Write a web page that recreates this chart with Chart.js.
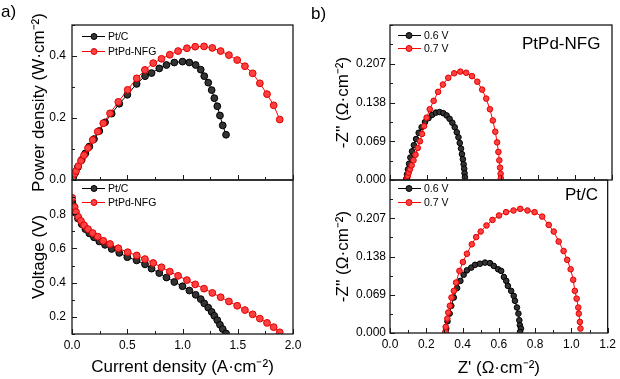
<!DOCTYPE html>
<html>
<head>
<meta charset="utf-8">
<script src="https://cdn.jsdelivr.net/npm/chart.js@4.4.1/dist/chart.umd.min.js"></script>
<style>
  body { margin: 0; background: #fff; }
  #wrap { position: relative; width: 620px; height: 379px; overflow: hidden; font-family: "Liberation Sans", Arial, sans-serif; }
  #wrap canvas { position: absolute; left: 0; top: 0; }
  .txt { position: absolute; white-space: nowrap; color: #000; line-height: 1; }
  .leg { position: absolute; display: flex; align-items: center; font-size: 10.5px; line-height: 1; white-space: nowrap; color: #000; }
  .leg svg { margin-right: 3px; }
</style>
</head>
<body>
<div id="wrap">
  <canvas id="aTop" width="620" height="379"></canvas>
  <canvas id="aBot" width="620" height="379"></canvas>
  <canvas id="bTop" width="620" height="379"></canvas>
  <canvas id="bBot" width="620" height="379"></canvas>

  <div class="txt" style="left:1px;top:3px;font-size:17px">a)</div>
  <div class="txt" style="left:311px;top:5px;font-size:17px">b)</div>
  <div class="txt" style="left:522px;top:35px;font-size:17px">PtPd-NFG</div>
  <div class="txt" style="left:565px;top:186px;font-size:17px">Pt/C</div>

  <div class="leg" style="left:82px;top:31px"><svg width="23" height="9"><line x1="0" y1="4.5" x2="23" y2="4.5" stroke="#000"/><circle cx="12" cy="4.5" r="3" fill="#333" stroke="#000"/></svg>Pt/C</div>
  <div class="leg" style="left:82px;top:46px"><svg width="23" height="9"><line x1="0" y1="4.5" x2="23" y2="4.5" stroke="#f00"/><circle cx="12" cy="4.5" r="3" fill="#ff4040" stroke="#e00000"/></svg>PtPd-NFG</div>
  <div class="leg" style="left:82px;top:183px"><svg width="23" height="9"><line x1="0" y1="4.5" x2="23" y2="4.5" stroke="#000"/><circle cx="12" cy="4.5" r="3" fill="#333" stroke="#000"/></svg>Pt/C</div>
  <div class="leg" style="left:82px;top:197px"><svg width="23" height="9"><line x1="0" y1="4.5" x2="23" y2="4.5" stroke="#f00"/><circle cx="12" cy="4.5" r="3" fill="#ff4040" stroke="#e00000"/></svg>PtPd-NFG</div>
  <div class="leg" style="left:398px;top:30px"><svg width="23" height="9"><line x1="0" y1="4.5" x2="23" y2="4.5" stroke="#000"/><circle cx="11" cy="4.5" r="3" fill="#333" stroke="#000"/></svg>0.6 V</div>
  <div class="leg" style="left:398px;top:43px"><svg width="23" height="9"><line x1="0" y1="4.5" x2="23" y2="4.5" stroke="#f00"/><circle cx="11" cy="4.5" r="3" fill="#ff4040" stroke="#e00000"/></svg>0.7 V</div>
  <div class="leg" style="left:398px;top:183px"><svg width="23" height="9"><line x1="0" y1="4.5" x2="23" y2="4.5" stroke="#000"/><circle cx="11" cy="4.5" r="3" fill="#333" stroke="#000"/></svg>0.6 V</div>
  <div class="leg" style="left:398px;top:197px"><svg width="23" height="9"><line x1="0" y1="4.5" x2="23" y2="4.5" stroke="#f00"/><circle cx="11" cy="4.5" r="3" fill="#ff4040" stroke="#e00000"/></svg>0.7 V</div>
</div>

<script>
// polarisation data (a)
const currentPtC = [0.003, 0.012, 0.030, 0.054, 0.088, 0.121, 0.157, 0.199, 0.247, 0.299, 0.359, 0.428, 0.501, 0.585, 0.661, 0.72, 0.79, 0.855, 0.926, 1.0, 1.062, 1.119, 1.165, 1.197, 1.233, 1.264, 1.288, 1.315, 1.339, 1.364, 1.394];
const voltagePtC = [0.87, 0.848, 0.808, 0.775, 0.742, 0.713, 0.688, 0.665, 0.641, 0.621, 0.597, 0.574, 0.549, 0.530, 0.507, 0.482, 0.456, 0.430, 0.404, 0.379, 0.354, 0.329, 0.304, 0.279, 0.254, 0.229, 0.206, 0.181, 0.154, 0.129, 0.103];
const powerPtC = [0.003, 0.010, 0.024, 0.042, 0.065, 0.086, 0.108, 0.132, 0.158, 0.186, 0.214, 0.246, 0.275, 0.310, 0.335, 0.345, 0.360, 0.371, 0.379, 0.382, 0.379, 0.371, 0.356, 0.335, 0.314, 0.290, 0.264, 0.238, 0.208, 0.176, 0.146];

const currentNFG = [0.002, 0.024, 0.036, 0.057, 0.081, 0.109, 0.145, 0.187, 0.233, 0.283, 0.344, 0.419, 0.504, 0.586, 0.66, 0.735, 0.81, 0.885, 0.96, 1.04, 1.115, 1.195, 1.27, 1.345, 1.42, 1.495, 1.565, 1.635, 1.70, 1.765, 1.825, 1.88];
const voltageNFG = [0.896, 0.842, 0.813, 0.784, 0.761, 0.736, 0.713, 0.690, 0.669, 0.645, 0.626, 0.601, 0.578, 0.559, 0.538, 0.515, 0.49, 0.465, 0.44, 0.415, 0.39, 0.365, 0.34, 0.315, 0.29, 0.265, 0.24, 0.215, 0.19, 0.165, 0.14, 0.11];
const powerNFG = [0.002, 0.020, 0.029, 0.045, 0.062, 0.080, 0.103, 0.129, 0.156, 0.183, 0.215, 0.252, 0.291, 0.328, 0.355, 0.377, 0.391, 0.404, 0.416, 0.425, 0.430, 0.431, 0.426, 0.416, 0.403, 0.387, 0.367, 0.344, 0.312, 0.277, 0.241, 0.195];

// impedance data (b)
const zReNFG06 = [0.088, 0.092, 0.097, 0.103, 0.110, 0.119, 0.129, 0.141, 0.155, 0.171, 0.189, 0.208, 0.228, 0.248, 0.268, 0.288, 0.306, 0.322, 0.337, 0.350, 0.361, 0.370, 0.377, 0.384, 0.389, 0.394, 0.398, 0.401, 0.403, 0.405];
const zImNFG06 = [0.002, 0.010, 0.019, 0.029, 0.040, 0.051, 0.062, 0.073, 0.084, 0.094, 0.103, 0.110, 0.116, 0.120, 0.121, 0.119, 0.115, 0.109, 0.102, 0.094, 0.085, 0.076, 0.066, 0.056, 0.046, 0.037, 0.028, 0.020, 0.012, 0.005];
const zReNFG07 = [0.092, 0.096, 0.101, 0.108, 0.117, 0.127, 0.138, 0.150, 0.162, 0.173, 0.184, 0.198, 0.215, 0.236, 0.260, 0.286, 0.315, 0.347, 0.380, 0.412, 0.443, 0.472, 0.498, 0.520, 0.540, 0.556, 0.569, 0.579, 0.586, 0.591, 0.595, 0.598, 0.599];
const zImNFG07 = [0.002, 0.007, 0.013, 0.019, 0.026, 0.035, 0.045, 0.057, 0.069, 0.082, 0.096, 0.111, 0.126, 0.141, 0.157, 0.170, 0.182, 0.190, 0.193, 0.191, 0.185, 0.175, 0.161, 0.145, 0.126, 0.106, 0.086, 0.067, 0.050, 0.035, 0.022, 0.011, 0.003];
const zRePtC06 = [0.307, 0.310, 0.317, 0.329, 0.338, 0.352, 0.370, 0.388, 0.406, 0.424, 0.448, 0.469, 0.496, 0.524, 0.551, 0.572, 0.596, 0.613, 0.628, 0.641, 0.650, 0.668, 0.682, 0.689, 0.700, 0.708, 0.713, 0.716, 0.722, 0.717];
const zImPtC06 = [0.002, 0.008, 0.021, 0.035, 0.049, 0.064, 0.081, 0.094, 0.105, 0.113, 0.118, 0.123, 0.125, 0.127, 0.126, 0.121, 0.115, 0.112, 0.101, 0.094, 0.085, 0.076, 0.067, 0.058, 0.046, 0.035, 0.023, 0.014, 0.008, 0.002];
const zRePtC07 = [0.306, 0.307, 0.316, 0.321, 0.330, 0.339, 0.352, 0.364, 0.383, 0.402, 0.424, 0.451, 0.475, 0.500, 0.532, 0.565, 0.601, 0.640, 0.681, 0.718, 0.758, 0.797, 0.839, 0.875, 0.903, 0.930, 0.957, 0.977, 0.996, 1.010, 1.019, 1.029, 1.038, 1.041, 1.047, 1.050];
const zImPtC07 = [0.002, 0.011, 0.026, 0.037, 0.049, 0.064, 0.076, 0.091, 0.112, 0.128, 0.143, 0.160, 0.173, 0.183, 0.194, 0.204, 0.212, 0.218, 0.221, 0.224, 0.221, 0.218, 0.210, 0.195, 0.183, 0.165, 0.148, 0.132, 0.115, 0.096, 0.076, 0.062, 0.046, 0.035, 0.020, 0.008];

// tick labels
const currentTicks = [0, 0.5, 1.0, 1.5, 2.0];
const powerTicks = [0, 0.2, 0.4];
const voltageTicks = [0.2, 0.4, 0.6, 0.8];
const zReTicks = [0, 0.2, 0.4, 0.6, 0.8, 1.0, 1.2];
const zImTicks = [0, 0.069, 0.138, 0.207];

Chart.defaults.font.family = '"Liberation Sans", Arial, sans-serif';
Chart.defaults.color = '#000';

// frame + inward ticks on left and bottom
const frameTicks = {
  id: 'frameTicks',
  afterDraw(chart, args, opts) {
    const { ctx, chartArea: a } = chart;
    const x = chart.scales.x, y = chart.scales.y;
    ctx.save();
    ctx.strokeStyle = '#1a1a1a';
    ctx.lineWidth = 1;
    ctx.beginPath();
    const mark = (s, v, len) => {
      if (s === x) {
        const px = Math.round(x.getPixelForValue(v)) + 0.5;
        ctx.moveTo(px, a.bottom); ctx.lineTo(px, a.bottom - len);
      } else {
        const py = Math.round(y.getPixelForValue(v)) + 0.5;
        ctx.moveTo(a.left, py); ctx.lineTo(a.left + len, py);
      }
    };
    [[x, opts.xMinor], [y, opts.yMinor]].forEach(([s, step]) => {
      const majors = s.ticks.map(t => t.value);
      majors.forEach(v => mark(s, v, 5));
      for (let k = Math.ceil(s.min / step - 1e-6); k * step <= s.max + 1e-9; k++) {
        const v = k * step;
        if (!majors.some(m => Math.abs(m - v) < step / 10)) mark(s, v, 3);
      }
    });
    ctx.stroke();
    ctx.lineWidth = 1.3;
    ctx.strokeRect(a.left, a.top, a.right - a.left, a.bottom - a.top);
    ctx.restore();
  }
};

function series(xs, ys) {
  return xs.map((v, i) => ({ x: v, y: ys[i] }));
}

function line(label, xs, ys, isRed, r) {
  return {
    label: label,
    data: series(xs, ys),
    showLine: true,
    borderColor: isRed ? '#ff0000' : '#000000',
    borderWidth: 1,
    pointRadius: r,
    pointBackgroundColor: isRed ? '#ff4040' : '#333333',
    pointBorderColor: isRed ? '#e00000' : '#000000',
    pointBorderWidth: 1,
    order: isRed ? 1 : 2
  };
}

function panel(id, box, datasets, xs, ys) {
  return new Chart(document.getElementById(id), {
    type: 'scatter',
    data: { datasets: datasets },
    options: {
      responsive: false,
      animation: false,
      events: [],
      layout: { padding: { left: box.l - ys.width, top: box.t, right: 620 - box.r, bottom: 379 - box.b - xs.height } },
      plugins: {
        legend: { display: false },
        tooltip: { enabled: false },
        frameTicks: { xMinor: xs.minor, yMinor: ys.minor }
      },
      scales: {
        x: {
          type: 'linear', min: xs.min, max: xs.max,
          grid: { display: false, drawTicks: false },
          border: { display: false },
          afterBuildTicks: s => { s.ticks = xs.ticks.map(v => ({ value: v })); },
          afterFit: s => { s.height = xs.height; },
          ticks: { display: xs.labels, padding: 4, font: { size: 12 }, callback: v => v.toFixed(xs.dec) },
          title: { display: !!xs.title, text: xs.title || '', font: { size: 17 }, padding: { top: 0, bottom: xs.titlePad || 0 } }
        },
        y: {
          type: 'linear', min: ys.min, max: ys.max,
          grid: { display: false, drawTicks: false },
          border: { display: false },
          afterBuildTicks: s => { s.ticks = ys.ticks.map(v => ({ value: v })); },
          afterFit: s => { s.width = ys.width; },
          ticks: { padding: ys.pad, font: { size: 12 }, callback: v => v.toFixed(ys.dec) },
          title: { display: true, text: ys.title, font: { size: 17 }, padding: { top: ys.titlePad, bottom: 0 } }
        }
      }
    },
    plugins: [frameTicks]
  });
}

const axCurrent = { min: 0, max: 2.0, ticks: currentTicks, minor: 0.25, dec: 1 };
const axZRe = { min: 0, max: 1.2, ticks: zReTicks, minor: 0.1, dec: 1 };

panel('aTop', { l: 72, t: 25, r: 293, b: 180 },
  [line('Pt/C', currentPtC, powerPtC, false, 3.4), line('PtPd-NFG', currentNFG, powerNFG, true, 3.4)],
  Object.assign({}, axCurrent, { labels: false, height: 0 }),
  { min: 0, max: 0.5, ticks: powerTicks, minor: 0.1, dec: 1, width: 52, pad: 6, titlePad: 9, title: 'Power density (W\u00b7cm\u207b\u00b2)' });

panel('aBot', { l: 72, t: 180, r: 293, b: 334 },
  [line('Pt/C', currentPtC, voltagePtC, false, 3.4), line('PtPd-NFG', currentNFG, voltageNFG, true, 3.4)],
  Object.assign({}, axCurrent, { labels: true, height: 45, title: 'Current density (A\u00b7cm\u207b\u00b2)', titlePad: 1 }),
  { min: 0.1, max: 1.0, ticks: voltageTicks, minor: 0.1, dec: 1, width: 52, pad: 6, titlePad: 9, title: 'Voltage (V)' });

panel('bTop', { l: 390, t: 25, r: 612, b: 180 },
  [line('0.6 V', zReNFG06, zImNFG06, false, 2.8), line('0.7 V', zReNFG07, zImNFG07, true, 2.8)],
  Object.assign({}, axZRe, { labels: false, height: 0 }),
  { min: 0, max: 0.276, ticks: zImTicks, minor: 0.0345, dec: 3, width: 70, pad: 4, titlePad: 13, title: '-Z\'\' (\u03a9\u00b7cm\u207b\u00b2)' });

panel('bBot', { l: 390, t: 180, r: 612, b: 333 },
  [line('0.6 V', zRePtC06, zImPtC06, false, 2.8), line('0.7 V', zRePtC07, zImPtC07, true, 2.8)],
  Object.assign({}, axZRe, { labels: true, height: 46, title: 'Z\' (\u03a9\u00b7cm\u207b\u00b2)', titlePad: 0 }),
  { min: 0, max: 0.276, ticks: zImTicks, minor: 0.0345, dec: 3, width: 70, pad: 4, titlePad: 13, title: '-Z\'\' (\u03a9\u00b7cm\u207b\u00b2)' });
</script>
</body>
</html>
